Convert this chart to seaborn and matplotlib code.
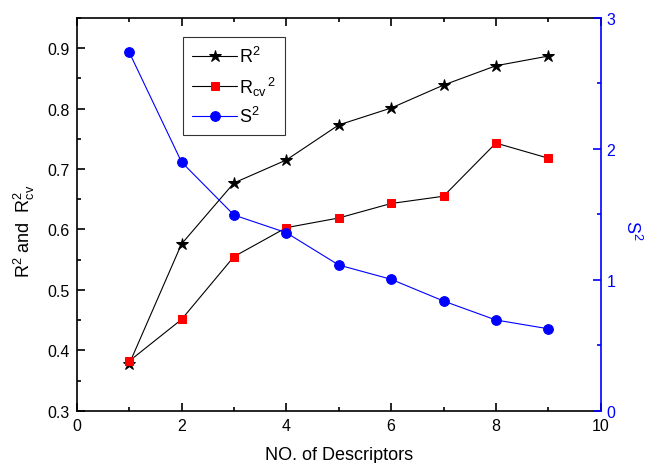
import numpy as np
import pandas as pd
import matplotlib
matplotlib.use("Agg")
import matplotlib.pyplot as plt
import seaborn as sns
from matplotlib.ticker import MultipleLocator

# values
n_descriptors = [1, 2, 3, 4, 5, 6, 7, 8, 9]
r2 = [0.377, 0.576, 0.677, 0.715, 0.773, 0.801, 0.839, 0.871, 0.887]
r2_cv = [0.382, 0.451, 0.555, 0.603, 0.619, 0.643, 0.655, 0.743, 0.718]
s2 = [2.74, 1.90, 1.495, 1.36, 1.113, 1.004, 0.838, 0.693, 0.626]

df = pd.DataFrame({"n": n_descriptors, "R2": r2, "R2cv": r2_cv, "S2": s2})

sns.set_style("ticks")
plt.rcParams["font.family"] = ["Liberation Sans", "DejaVu Sans"]
plt.rcParams["mathtext.fontset"] = "custom"
plt.rcParams["mathtext.rm"] = "Liberation Sans"
plt.rcParams["mathtext.it"] = "Liberation Sans"
# seaborn greys the text, the original is plain black
for key in ["text.color", "axes.labelcolor", "xtick.color", "ytick.color", "axes.edgecolor"]:
    plt.rcParams[key] = "black"

fig = plt.figure(figsize=(6.48, 4.64), dpi=100)
ax = fig.add_axes([0.1184, 0.1127, 0.8086, 0.8463])
ax2 = ax.twinx()

lw = 0.8
sns.lineplot(data=df, x="n", y="R2", ax=ax, color="black", lw=lw, marker="*",
             markersize=9, markerfacecolor="black", markeredgecolor="black",
             label=r"R$^{2}$", legend=False)
sns.lineplot(data=df, x="n", y="R2cv", ax=ax, color="black", lw=lw, marker="s",
             markersize=6, markerfacecolor="red", markeredgecolor="red",
             label=r"R$_{cv}$$^{\,2}$", legend=False)
sns.lineplot(data=df, x="n", y="S2", ax=ax2, color="blue", lw=lw, marker="o",
             markersize=7, markerfacecolor="blue", markeredgecolor="blue",
             label=r"S$^{2}$", legend=False)

ax.set_xlim(0, 10)
ax.set_ylim(0.3, 0.95)
ax2.set_ylim(0, 3)

ax.xaxis.set_major_locator(MultipleLocator(2))
ax.xaxis.set_minor_locator(MultipleLocator(1))
ax.yaxis.set_minor_locator(MultipleLocator(0.05))
ax2.yaxis.set_major_locator(MultipleLocator(1))
ax2.yaxis.set_minor_locator(MultipleLocator(0.5))
yt = np.arange(0.3, 0.91, 0.1)
ax.set_yticks(yt)
ax.set_yticklabels([f"{v:.1f}" for v in yt])

for a in (ax, ax2):
    for sp in a.spines.values():
        sp.set_linewidth(1.2)
ax.spines["right"].set_visible(False)
ax2.spines["right"].set_color("blue")
ax2.spines["left"].set_visible(False)
ax2.spines["top"].set_visible(False)
ax2.spines["bottom"].set_visible(False)

ax.tick_params(which="both", direction="in", top=True, right=False,
               labelsize=11.5, width=1.2, color="black", labelcolor="black", pad=5)
ax.tick_params(which="major", length=6)
ax.tick_params(which="minor", length=3)
ax2.tick_params(which="both", direction="in", right=True, colors="blue",
                labelsize=11.5, width=1.2, pad=4)
ax2.tick_params(which="major", length=6)
ax2.tick_params(which="minor", length=3)

ax.set_xlabel("NO. of Descriptors", fontsize=13, color="black")
ax.set_ylabel(r"R$^{2}$ and  R$_{cv}^{2}$", fontsize=13, color="black")
ax2.set_ylabel(r"S$^{2}$", fontsize=13, color="blue", rotation=270)
ax.xaxis.set_label_coords(0.5, -0.09)
ax.yaxis.set_label_coords(-0.075, 0.46)
ax2.yaxis.set_label_coords(1.079, 0.463)

h1, l1 = ax.get_legend_handles_labels()
h2, l2 = ax2.get_legend_handles_labels()
leg = ax.legend(h1 + h2, l1 + l2, loc="upper left", bbox_to_anchor=(0.203, 0.951),
                borderaxespad=0, fontsize=13, handlelength=2.5, handletextpad=0.1,
                labelspacing=0.45, fancybox=False, frameon=True, borderpad=0.5)
leg.get_frame().set_edgecolor("black")
leg.get_frame().set_linewidth(0.8)
for t in leg.get_texts():
    t.set_color("black")

fig.savefig("out.png", dpi=100)
